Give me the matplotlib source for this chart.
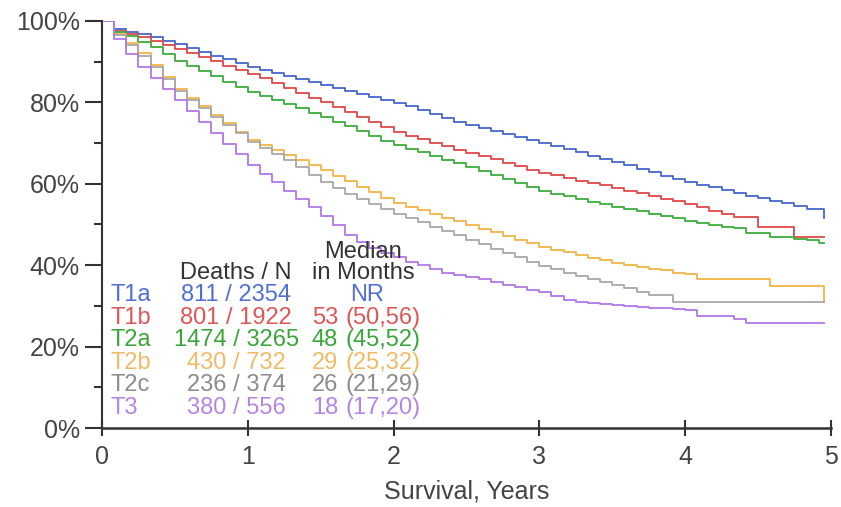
import numpy as np
import matplotlib
matplotlib.use('Agg')
from matplotlib import pyplot as plt
from matplotlib.ticker import MultipleLocator, FuncFormatter

plt.rcParams['font.family'] = ['Liberation Sans', 'DejaVu Sans']

# survival (%), one value per month (0..59), plus end of follow-up
months = np.arange(60)
end_time = 4.95

t1a = [100, 98.0, 97.4, 96.8, 96.0, 95.2, 94.3, 93.4, 92.5, 91.5, 90.6, 89.6,
       88.7, 88.0, 87.3, 86.5, 85.8, 85.0, 84.3, 83.6, 82.9, 82.1, 81.4, 80.6,
       79.9, 79.0, 78.1, 77.1, 76.2, 75.3, 74.4, 73.7, 72.9, 72.2, 71.5, 70.7,
       70.0, 69.3, 68.5, 67.7, 66.9, 66.2, 65.4, 64.6, 63.7, 62.9, 62.0, 61.2,
       60.4, 59.7, 59.1, 58.4, 57.8, 57.1, 56.5, 55.8, 55.2, 54.5, 53.8, 53.8]
t1a_end = 51.6

t1b = [100, 97.6, 96.9, 96.1, 95.2, 94.2, 93.1, 92.1, 91.1, 90.1, 89.0, 88.0,
       87.0, 85.9, 84.7, 83.6, 82.4, 81.2, 80.1, 78.9, 77.6, 76.4, 75.1, 73.9,
       72.7, 71.8, 71.0, 70.1, 69.3, 68.4, 67.6, 66.8, 66.0, 65.2, 64.3, 63.5,
       62.7, 62.1, 61.5, 60.8, 60.2, 59.6, 59.0, 58.3, 57.7, 57.0, 56.3, 55.7,
       55.0, 54.3, 53.4, 52.5, 51.8, 51.8, 49.4, 49.4, 49.4, 46.9, 46.9, 46.9]
t1b_end = 46.9

t2a = [100, 97.4, 96.2, 94.9, 93.7, 91.9, 90.2, 88.9, 87.6, 86.4, 85.1, 83.8,
       82.6, 81.6, 80.5, 79.5, 78.5, 77.4, 76.4, 75.3, 74.1, 72.9, 71.8, 70.6,
       69.5, 68.6, 67.7, 66.8, 65.9, 65.0, 64.1, 63.1, 62.2, 61.2, 60.2, 59.2,
       58.2, 57.6, 56.9, 56.3, 55.6, 55.0, 54.3, 53.7, 53.2, 52.6, 52.0, 51.5,
       50.9, 50.4, 49.9, 49.5, 49.1, 47.9, 47.9, 46.9, 46.9, 46.5, 46.1, 45.5]
t2a_end = 45.5

t2b = [100, 96.8, 94.5, 92.1, 89.2, 86.2, 83.3, 81.2, 79.1, 77.0, 74.9, 72.8,
       70.7, 69.5, 68.2, 67.0, 65.8, 64.6, 63.4, 62.0, 60.7, 59.3, 58.0, 56.6,
       55.3, 54.4, 53.5, 52.6, 51.7, 50.8, 49.9, 49.0, 48.1, 47.2, 46.3, 45.4,
       44.5, 43.8, 43.2, 42.5, 41.8, 41.2, 40.5, 40.0, 39.6, 39.1, 38.7, 38.2,
       37.8, 36.6, 36.6, 36.6, 36.6, 36.6, 36.6, 34.9, 34.9, 34.9, 34.9, 34.9]
t2b_end = 31.0

t2c = [100, 96.5, 94.0, 91.5, 88.8, 85.8, 82.8, 80.6, 78.6, 76.5, 74.5, 72.4,
       70.3, 68.8, 67.3, 65.8, 64.2, 62.2, 60.5, 59.0, 57.4, 56.2, 55.0, 53.8,
       52.6, 51.6, 50.5, 49.4, 48.4, 47.3, 46.2, 45.1, 44.1, 43.0, 41.9, 40.9,
       39.8, 39.0, 38.2, 37.4, 36.6, 35.9, 35.1, 34.3, 33.5, 32.7, 32.7, 31.0,
       31.0, 31.0, 31.0, 31.0, 31.0, 31.0, 31.0, 31.0, 31.0, 31.0, 31.0, 31.0]
t2c_end = 31.0

t3 = [100, 95.5, 92.0, 88.8, 85.9, 83.2, 80.6, 77.9, 75.2, 72.5, 69.9, 67.2,
      64.6, 62.5, 60.4, 58.3, 56.2, 54.2, 52.1, 49.8, 47.4, 45.6, 44.2, 43.0,
      42.0, 40.8, 40.0, 39.0, 38.1, 37.6, 37.1, 36.5, 35.8, 35.2, 34.6, 34.0,
      33.4, 32.4, 31.4, 31.0, 30.6, 30.4, 30.2, 30.0, 29.8, 29.6, 29.4, 29.2,
      29.0, 27.5, 27.5, 27.5, 26.8, 25.8, 25.8, 25.8, 25.8, 25.8, 25.8, 25.8]
t3_end = 25.8

groups = ['T1a', 'T1b', 'T2a', 'T2b', 'T2c', 'T3']
curves = [t1a, t1b, t2a, t2b, t2c, t3]
curve_ends = [t1a_end, t1b_end, t2a_end, t2b_end, t2c_end, t3_end]
deaths = [811, 801, 1474, 430, 236, 380]
totals = [2354, 1922, 3265, 732, 374, 556]
medians = ['NR', '53', '48', '29', '26', '18']
med_ci = ['', '(50,56)', '(45,52)', '(25,32)', '(21,29)', '(17,20)']

line_colors = ['#4466cc', '#e04848', '#3cae3c', '#f2b447', '#a8a8a8', '#b277e6']
text_colors = ['#4f6fd6', '#e05555', '#3aa63a', '#f0bb66', '#8c8c8c', '#b585e6']

fig = plt.figure(figsize=(8.41, 5.07), dpi=100)
ax = fig.add_axes([0.1213, 0.1558, 0.8667, 0.8028])

years = months / 12.0
for vals, last, col in zip(curves, curve_ends, line_colors):
    x = np.append(years, end_time)
    y = np.append(vals, last)
    ax.step(x, y, where='post', color=col, linewidth=1.3)

ax.set_xlim(0, 5)
ax.set_ylim(0, 100)
ax.spines['top'].set_visible(False)
ax.spines['right'].set_visible(False)
ax.spines['left'].set_linewidth(1.5)
ax.spines['bottom'].set_linewidth(1.8)
ax.spines['left'].set_color('#333333')
ax.spines['bottom'].set_color('#333333')

ax.xaxis.set_major_locator(MultipleLocator(1))
ax.yaxis.set_major_locator(MultipleLocator(20))
ax.yaxis.set_minor_locator(MultipleLocator(10))
ax.yaxis.set_major_formatter(FuncFormatter(lambda v, p: f'{v:.0f}%'))
ax.tick_params(axis='y', which='major', direction='out', length=12, width=1.5,
               color='#333333', labelsize=18, labelcolor='#444444', pad=4)
ax.tick_params(axis='y', which='minor', direction='out', length=6, width=1.5,
               color='#333333')
ax.tick_params(axis='x', which='major', direction='inout', length=12, width=1.5,
               color='#333333', labelsize=18, labelcolor='#444444', pad=6)
ax.set_xlabel('Survival, Years', fontsize=18, color='#444444', labelpad=8)

# table of counts and medians
fs = 17
ax.text(1.79, 43.2, 'Median', ha='center', va='center', fontsize=fs, color='#333333')
ax.text(0.92, 38.1, 'Deaths / N', ha='center', va='center', fontsize=fs, color='#333333')
ax.text(1.79, 38.1, 'in Months', ha='center', va='center', fontsize=fs, color='#333333')
row_y = [32.7, 27.0, 21.6, 16.0, 10.6, 4.9]
for g, d, n, m, ci, c, yy in zip(groups, deaths, totals, medians, med_ci, text_colors, row_y):
    ax.text(0.055, yy, g, ha='left', va='center', fontsize=fs, color=c)
    ax.text(0.92, yy, f'{d} / {n}', ha='center', va='center', fontsize=fs, color=c)
    if ci:
        ax.text(1.53, yy, m, ha='center', va='center', fontsize=fs, color=c)
        ax.text(1.93, yy, ci, ha='center', va='center', fontsize=fs, color=c)
    else:
        ax.text(1.82, yy, m, ha='center', va='center', fontsize=fs, color=c)

fig.savefig('out.png', dpi=100, facecolor='white')
